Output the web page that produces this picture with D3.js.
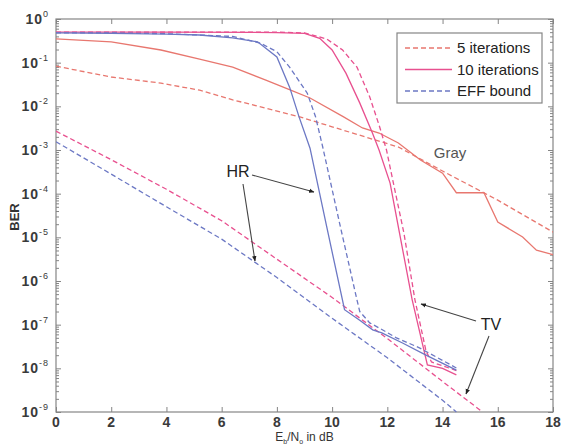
<!DOCTYPE html>
<html>
<head>
<meta charset="utf-8">
<script src="https://cdn.jsdelivr.net/npm/d3@7"></script>
<style>
body { margin: 0; background: #fff; }
text { font-family: Arial, "Liberation Sans", sans-serif; }
</style>
</head>
<body>
<script>
// x ticks (dB) and decades on the y axis
var xTicks = [0, 2, 4, 6, 8, 10, 12, 14, 16, 18];
var yExps = [0, -1, -2, -3, -4, -5, -6, -7, -8, -9];

// Gray mapping
var gray5X = [0, 2, 3.8, 5.2, 6.4, 8.8, 10, 12.4, 14, 16, 18];
var gray5Y = [0.083, 0.047, 0.034, 0.0234, 0.0141, 5.8e-3, 3.4e-3, 1.17e-3, 3.3e-4, 7.1e-5, 1.32e-5];
var gray10X = [0, 2, 3.8, 5.2, 6.4, 7.6, 8.5, 9.2, 10.4, 11.1, 11.7, 12.4, 13.2, 14.0, 14.5, 15.5, 16.0, 16.9, 17.4, 18];
var gray10Y = [0.35, 0.30, 0.195, 0.12, 0.079, 0.040, 0.0234, 0.0155, 5.8e-3, 3.2e-3, 2.45e-3, 1.45e-3, 5.9e-4, 2.95e-4, 1.05e-4, 1.05e-4, 2.24e-5, 1.02e-5, 5.1e-6, 4.0e-6];

// HR mapping
var hr5X = [0, 2, 4, 6.4, 7.4, 8.0, 8.46, 9.1, 9.4, 9.66, 10.3, 10.9, 11.0, 11.36, 11.72, 12.33, 13.16, 14.5];
var hr5Y = [0.48, 0.48, 0.46, 0.40, 0.28, 0.178, 0.079, 0.020, 5.8e-3, 1.17e-3, 1.74e-5, 3.7e-7, 2.0e-7, 1.1e-7, 8.3e-8, 5.0e-8, 2.95e-8, 1.02e-8];
var hr10X = [0, 2, 4, 5.2, 6.4, 7.3, 8.0, 8.46, 8.8, 9.2, 9.8, 10.45, 11.0, 11.47, 11.8, 12.55, 13.4, 14.5];
var hr10Y = [0.48, 0.47, 0.45, 0.43, 0.37, 0.30, 0.135, 0.0275, 5.8e-3, 1.1e-3, 1.8e-5, 2.2e-7, 1.26e-7, 7.6e-8, 6.5e-8, 3.8e-8, 2.0e-8, 9.1e-9];
var hrEffX = [0, 2, 4, 6, 8, 10, 12, 14, 14.5];
var hrEffY = [1.55e-3, 2.8e-4, 5.0e-5, 9.1e-6, 1.2e-6, 1.4e-7, 1.74e-8, 1.86e-9, 1e-9];

// TV mapping
var tv5X = [0, 4, 8, 9.0, 9.8, 10.38, 10.9, 11.36, 11.72, 11.97, 12.2, 12.6, 13.0, 13.4, 13.6, 14.5];
var tv5Y = [0.50, 0.50, 0.50, 0.48, 0.35, 0.195, 0.079, 0.0166, 3.4e-3, 1.0e-3, 2.0e-4, 1.26e-5, 3.7e-7, 2.5e-8, 1.4e-8, 8.9e-9];
var tv10X = [0, 4, 8, 9.0, 9.55, 10.0, 10.5, 11.0, 11.46, 11.7, 12.1, 12.44, 12.9, 13.45, 14.0, 14.5];
var tv10Y = [0.50, 0.50, 0.49, 0.47, 0.36, 0.195, 0.0575, 0.012, 2.45e-3, 1.0e-3, 1.74e-4, 1.26e-5, 3.7e-7, 1.2e-8, 1.0e-8, 7.1e-9];
var tvEffX = [0, 2, 4, 6, 8, 10, 12, 14, 15.45];
var tvEffY = [2.7e-3, 6.0e-4, 1.26e-4, 2.4e-5, 3.16e-6, 4.2e-7, 4.8e-8, 5.0e-9, 1e-9];

var legendLabels = ['5 iterations', '10 iterations', 'EFF bound'];

var width = 562, height = 445;
var margin = {top: 19, right: 9, bottom: 33, left: 56};
var w = width - margin.left - margin.right;
var h = height - margin.top - margin.bottom;

var cGray = '#e8776f', cTV = '#e8508f', cHR = '#6c78c4', axisCol = '#858585';

var svg = d3.select('body').append('svg')
    .attr('width', width)
    .attr('height', height);

var defs = svg.append('defs');
defs.append('marker')
    .attr('id', 'head')
    .attr('viewBox', '0 0 10 10')
    .attr('refX', 9).attr('refY', 5)
    .attr('markerWidth', 5).attr('markerHeight', 5)
    .attr('orient', 'auto')
  .append('path')
    .attr('d', 'M0,1 L10,5 L0,9 z')
    .attr('fill', '#222');
defs.append('clipPath').attr('id', 'clip')
  .append('rect').attr('width', w).attr('height', h + 1);

var g = svg.append('g').attr('transform', 'translate(' + margin.left + ',' + margin.top + ')');

var x = d3.scaleLinear().domain([0, 18]).range([0, w]);
var y = d3.scaleLog().domain([1e-9, 1]).range([h, 0]);

// frame
g.append('rect').attr('width', w).attr('height', h)
    .attr('fill', 'none').attr('stroke', axisCol).attr('stroke-width', 1.2);

// y ticks (major + minor), left and right, pointing inward
var minor = [];
yExps.forEach(function(e) {
    if (e < 0) for (var k = 2; k <= 9; k++) minor.push(k * Math.pow(10, e));
});
var majors = yExps.map(function(e) { return Math.pow(10, e); });

var yl = g.append('g').call(d3.axisLeft(y).tickValues(minor).tickSize(-3).tickFormat(''));
var yr = g.append('g').attr('transform', 'translate(' + w + ',0)')
    .call(d3.axisRight(y).tickValues(minor).tickSize(-3).tickFormat(''));
var ylm = g.append('g').call(d3.axisLeft(y).tickValues(majors).tickSize(-5).tickFormat(''));
var yrm = g.append('g').attr('transform', 'translate(' + w + ',0)')
    .call(d3.axisRight(y).tickValues(majors).tickSize(-5).tickFormat(''));
var xb = g.append('g').attr('transform', 'translate(0,' + h + ')')
    .call(d3.axisBottom(x).tickValues(xTicks).tickSize(-5).tickFormat(''));
var xt = g.append('g')
    .call(d3.axisTop(x).tickValues(xTicks).tickSize(-5).tickFormat(''));
[yl, yr, ylm, yrm, xb, xt].forEach(function(a) {
    a.select('.domain').remove();
    a.selectAll('line').attr('stroke', axisCol);
});

// y tick labels 10^n
yExps.forEach(function(e) {
    var t = g.append('text')
        .attr('x', -7)
        .attr('y', y(Math.pow(10, e)) + 5)
        .attr('text-anchor', 'end')
        .attr('font-size', 14)
        .attr('font-weight', 'bold')
        .attr('letter-spacing', 1)
        .attr('fill', '#3a3a3a');
    t.append('tspan').text('10');
    t.append('tspan').attr('dy', -7).attr('font-size', 9).attr('font-weight', 'normal').text(e);
});

// x tick labels
xTicks.forEach(function(v) {
    g.append('text')
        .attr('x', x(v))
        .attr('y', h + 15)
        .attr('text-anchor', 'middle')
        .attr('font-size', 14)
        .attr('font-weight', 'bold')
        .attr('fill', '#3a3a3a')
        .text(v);
});

// axis labels
var xl = svg.append('text')
    .attr('x', margin.left + x(9))
    .attr('y', 441)
    .attr('text-anchor', 'middle')
    .attr('font-size', 12)
    .attr('fill', '#333');
xl.append('tspan').text('E');
xl.append('tspan').attr('dy', 3).attr('font-size', 7).text('b');
xl.append('tspan').attr('dy', -3).text('/N');
xl.append('tspan').attr('dy', 3).attr('font-size', 7).text('o');
xl.append('tspan').attr('dy', -3).text(' in dB');

svg.append('text')
    .attr('transform', 'translate(19,217) rotate(-90)')
    .attr('text-anchor', 'middle')
    .attr('font-size', 13)
    .attr('font-weight', 'bold')
    .attr('fill', '#333')
    .text('BER');

// curves
var line = d3.line()
    .x(function(d) { return x(d[0]); })
    .y(function(d) { return y(d[1]); });

var series = [
    {xs: gray5X, ys: gray5Y, color: cGray, dash: '5,3'},
    {xs: gray10X, ys: gray10Y, color: cGray, dash: null},
    {xs: tvEffX, ys: tvEffY, color: cTV, dash: '5,3'},
    {xs: hrEffX, ys: hrEffY, color: cHR, dash: '5,3'},
    {xs: tv5X, ys: tv5Y, color: cTV, dash: '5,3'},
    {xs: tv10X, ys: tv10Y, color: cTV, dash: null},
    {xs: hr5X, ys: hr5Y, color: cHR, dash: '5,3'},
    {xs: hr10X, ys: hr10Y, color: cHR, dash: null}
];

var plot = g.append('g').attr('clip-path', 'url(#clip)');
plot.selectAll('path.curve')
    .data(series)
    .enter().append('path')
    .attr('class', 'curve')
    .attr('d', function(s) { return line(s.xs.map(function(v, i) { return [v, s.ys[i]]; })); })
    .attr('fill', 'none')
    .attr('stroke', function(s) { return s.color; })
    .attr('stroke-width', 1.3)
    .attr('stroke-dasharray', function(s) { return s.dash; });

// legend
var leg = svg.append('g');
leg.append('rect')
    .attr('x', 397).attr('y', 33).attr('width', 145).attr('height', 70)
    .attr('fill', '#fff').attr('stroke', axisCol).attr('stroke-width', 1.2);
var legColors = [cGray, cTV, cHR];
var legDash = ['5,3', null, '5,3'];
legendLabels.forEach(function(lbl, i) {
    var yy = 48 + i * 21.5;
    leg.append('line')
        .attr('x1', 405).attr('x2', 452).attr('y1', yy).attr('y2', yy)
        .attr('stroke', legColors[i]).attr('stroke-width', 1.3)
        .attr('stroke-dasharray', legDash[i]);
    leg.append('text')
        .attr('x', 457).attr('y', yy + 5)
        .attr('font-size', 15)
        .attr('fill', '#222')
        .text(lbl);
});

// annotations
function arrow(x1, y1, x2, y2) {
    svg.append('line')
        .attr('x1', x1).attr('y1', y1).attr('x2', x2).attr('y2', y2)
        .attr('stroke', '#444').attr('stroke-width', 1.1)
        .attr('marker-end', 'url(#head)');
}
svg.append('text').attr('x', 238).attr('y', 177).attr('text-anchor', 'middle')
    .attr('font-size', 16).attr('fill', '#222').text('HR');
arrow(252, 175, 314, 192);
arrow(243, 184, 255, 261);

svg.append('text').attr('x', 491).attr('y', 330).attr('text-anchor', 'middle')
    .attr('font-size', 16).attr('fill', '#222').text('TV');
arrow(476, 321, 421, 304);
arrow(489, 336, 466, 394);

svg.append('text').attr('x', 450).attr('y', 158).attr('text-anchor', 'middle')
    .attr('font-family', '"Liberation Serif", "Times New Roman", serif')
    .attr('font-size', 15).attr('fill', '#555').text('Gray');
</script>
</body>
</html>
